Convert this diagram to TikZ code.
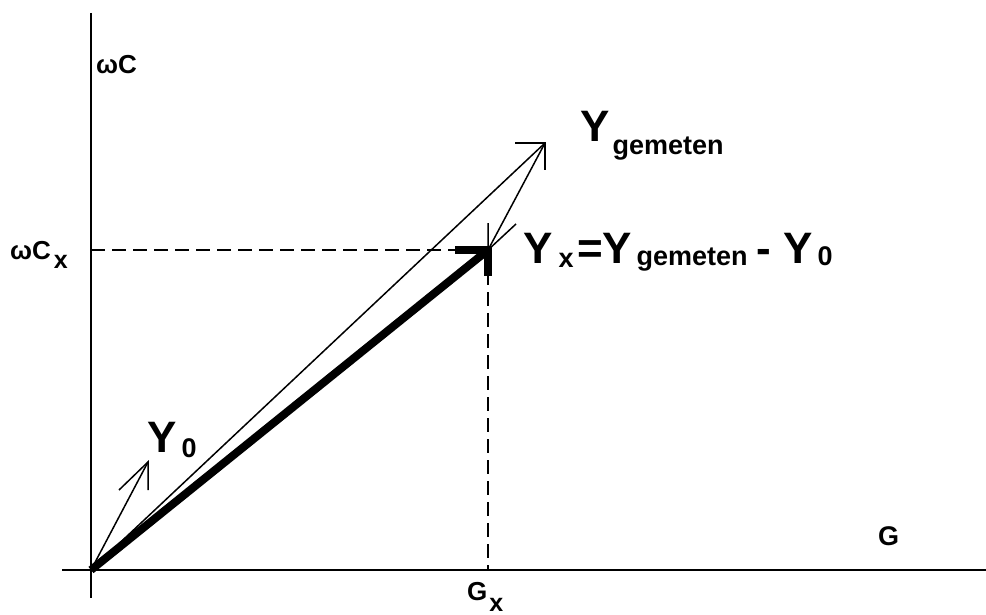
\documentclass[tikz,border=0pt]{standalone}
\usepackage{fontspec}
\setmainfont{Liberation Sans}
\newcommand\sbx[3]{\raisebox{-#2pt}{\fontsize{#1}{#1}\selectfont #3}}
\begin{document}
\begin{tikzpicture}[x=1pt,y=-1pt,
  axis/.style={line width=1.6pt},
  thinarrow/.style={line width=1.5pt, line join=miter},
  thickarrow/.style={line width=8pt, line join=miter},
  guide/.style={line width=1.3pt, dash pattern=on 14pt off 7pt},
  lbl/.style={inner sep=0pt, anchor=base west, font=\bfseries}]
\useasboundingbox (0,0) rectangle (986,615);
% key points
\coordinate (O) at (91,570);
\coordinate (Vtop) at (91,13);
\coordinate (Vbot) at (91,598);
\coordinate (Hl) at (62,570);
\coordinate (Hr) at (986,570);
\coordinate (Yx) at (488,250);
\coordinate (Yg) at (545,143);
\coordinate (Yo) at (148,462);
\coordinate (Cx) at (91,250);
\coordinate (Gx) at (488,570);
% arrowhead wings
\coordinate (YxL) at (455,250);
\coordinate (YxD) at (488,276);
\coordinate (YgL) at (515,143);
\coordinate (YgD) at (545,170);
\coordinate (MoU) at (488,223);
\coordinate (MoR) at (516,224);
\coordinate (YoL) at (119,490);
\coordinate (YoD) at (148,490);
% axes
\draw[axis] (Vtop) -- (Vbot);
\draw[axis] (Hl) -- (Hr);
% guides
\draw[guide] (Cx) -- (Yx);
\draw[guide] (Yx) -- (Gx);
% Y gemeten
\draw[thinarrow] (O) -- (Yg);
\draw[thinarrow] (YgL) -- (Yg) -- (YgD);
% -Y0
\draw[thinarrow] (Yg) -- (Yx);
\draw[thinarrow] (MoU) -- (Yx) -- (MoR);
% Y0
\draw[thinarrow] (O) -- (Yo);
\draw[thinarrow] (YoL) -- (Yo) -- (YoD);
% Yx thick
\draw[thickarrow] (O) -- (Yx);
\draw[thickarrow] (YxL) -- (Yx) -- (YxD);
% labels
\node[lbl] (lwC) at (96,74) {\fontsize{26}{26}\selectfont ωC};
\node[lbl] (lwCx) at (10,259) {\fontsize{26}{26}\selectfont ωC\hspace{3pt}\sbx{25}{9}{x}};
\node[lbl] (lG) at (878,545) {\fontsize{27}{27}\selectfont G};
\node[lbl] (lGx) at (467,600) {\fontsize{26}{26}\selectfont G\hspace{2pt}\sbx{25}{11}{x}};
\node[lbl] (lYg) at (580,142) {\fontsize{44}{44}\selectfont Y\hspace{3pt}\sbx{27}{13}{gemeten}};
\node[lbl] (lYo) at (147,452) {\fontsize{44}{44}\selectfont Y\hspace{5pt}\sbx{27}{5}{0}};
\node[lbl] (lYx) at (523,263) {\fontsize{44}{44}\selectfont Y\hspace{6pt}\sbx{27}{4}{x}\hspace{4pt}=\hspace{-1pt}Y\hspace{5pt}\sbx{27}{2}{gemeten}\hspace{9pt}-\hspace{12pt}Y\hspace{5pt}\sbx{27}{2}{0}};
\end{tikzpicture}
\end{document}
